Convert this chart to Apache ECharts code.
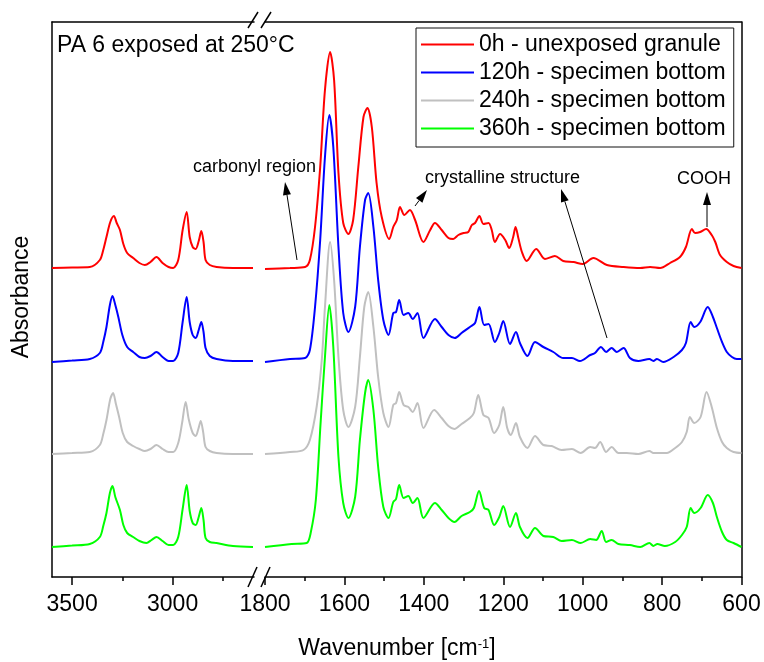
<!DOCTYPE html>
<html>
<head>
<meta charset="utf-8">
<script src="https://cdn.jsdelivr.net/npm/echarts@6/dist/echarts.min.js"></script>
<style>
  html, body { margin: 0; padding: 0; background: #fff; }
  #chart { width: 764px; height: 662px; }
</style>
</head>
<body>
<div id="chart"></div>
<script>
// FTIR spectra of PA 6 aged at 250 °C, plotted on a split wavenumber axis
// (3600–2600 cm-1 on the left part, 1800–600 cm-1 on the right part).

const seriesNames = [
  '0h - unexposed granule',
  '120h - specimen bottom',
  '240h - specimen bottom',
  '360h - specimen bottom'
];
const seriesColors = ['#ff0000', '#0000ff', '#c0c0c0', '#00ff00'];

// tick positions of the two axis parts
const ticksHighMajor = [3500, 3000];
const ticksHighMinor = [3250, 2750];
const ticksLowMajor = [1800, 1600, 1400, 1200, 1000, 800, 600];
const ticksLowMinor = [1700, 1500, 1300, 1100, 900, 700];

// [wavenumber, absorbance (offset per spectrum)]
const spec0hHigh = [[3600,3.09],[3500,3.095],[3412,3.10],[3362,3.17],[3345,3.27],[3329,3.40],[3310,3.55],[3292,3.61],[3278,3.54],[3262,3.47],[3245,3.33],[3226,3.24],[3196,3.19],[3165,3.14],[3138,3.12],[3110,3.15],[3080,3.20],[3050,3.14],[3020,3.10],[2997,3.09],[2972,3.17],[2950,3.47],[2930,3.65],[2915,3.40],[2900,3.30],[2885,3.28],[2870,3.36],[2857,3.46],[2846,3.35],[2836,3.17],[2815,3.12],[2781,3.10],[2700,3.09],[2600,3.09]];
const spec120hHigh = [[3600,2.15],[3500,2.165],[3412,2.18],[3362,2.24],[3345,2.35],[3329,2.50],[3312,2.72],[3299,2.81],[3285,2.72],[3270,2.60],[3250,2.42],[3226,2.30],[3196,2.25],[3165,2.20],[3138,2.19],[3110,2.21],[3080,2.25],[3050,2.20],[3020,2.16],[2997,2.16],[2972,2.24],[2950,2.55],[2930,2.80],[2915,2.55],[2900,2.42],[2885,2.39],[2870,2.47],[2857,2.55],[2846,2.45],[2836,2.29],[2815,2.21],[2781,2.18],[2700,2.16],[2600,2.16]];
const spec240hHigh = [[3600,1.23],[3500,1.24],[3412,1.25],[3362,1.32],[3345,1.43],[3329,1.57],[3310,1.78],[3296,1.84],[3282,1.73],[3266,1.60],[3248,1.44],[3226,1.35],[3196,1.31],[3165,1.28],[3138,1.26],[3110,1.28],[3080,1.32],[3050,1.28],[3020,1.25],[2997,1.25],[2972,1.34],[2952,1.55],[2935,1.75],[2920,1.58],[2900,1.44],[2885,1.41],[2872,1.48],[2860,1.56],[2848,1.45],[2836,1.30],[2815,1.26],[2781,1.24],[2700,1.23],[2600,1.23]];
const spec360hHigh = [[3600,0.30],[3500,0.315],[3412,0.33],[3362,0.40],[3345,0.51],[3329,0.64],[3312,0.84],[3299,0.91],[3285,0.80],[3262,0.67],[3245,0.52],[3226,0.44],[3196,0.40],[3165,0.36],[3130,0.34],[3105,0.37],[3080,0.40],[3050,0.36],[3020,0.32],[2997,0.32],[2972,0.40],[2950,0.68],[2930,0.92],[2915,0.66],[2900,0.54],[2885,0.52],[2870,0.60],[2857,0.69],[2846,0.57],[2836,0.39],[2815,0.35],[2781,0.34],[2700,0.31],[2600,0.30]];

const spec0hLow = [[1800,3.08],[1737,3.09],[1699,3.10],[1687,3.17],[1674,3.50],[1661,4.10],[1649,4.87],[1636,5.25],[1626,4.97],[1615,4.04],[1603,3.54],[1590,3.43],[1578,3.57],[1565,4.10],[1552,4.60],[1542,4.69],[1531,4.50],[1519,3.94],[1506,3.60],[1487,3.38],[1477,3.50],[1468,3.57],[1460,3.70],[1449,3.62],[1435,3.67],[1422,3.57],[1401,3.35],[1384,3.47],[1372,3.54],[1355,3.47],[1338,3.39],[1326,3.38],[1313,3.42],[1300,3.44],[1288,3.45],[1279,3.52],[1271,3.54],[1260,3.61],[1250,3.53],[1237,3.54],[1229,3.47],[1221,3.35],[1208,3.43],[1195,3.37],[1185,3.29],[1175,3.40],[1169,3.50],[1162,3.39],[1153,3.25],[1141,3.16],[1117,3.28],[1095,3.18],[1070,3.21],[1049,3.16],[1023,3.15],[1000,3.13],[973,3.19],[939,3.12],[897,3.10],[855,3.09],[830,3.10],[805,3.09],[780,3.14],[755,3.20],[740,3.30],[725,3.48],[717,3.44],[704,3.45],[689,3.48],[675,3.42],[666,3.35],[654,3.22],[637,3.15],[620,3.11],[600,3.09]];
const spec120hLow = [[1800,2.15],[1737,2.18],[1699,2.19],[1687,2.27],[1674,2.70],[1661,3.37],[1649,4.20],[1638,4.62],[1628,4.30],[1615,3.30],[1603,2.64],[1590,2.45],[1573,2.70],[1561,3.30],[1548,3.77],[1540,3.84],[1527,3.50],[1515,2.97],[1502,2.57],[1489,2.42],[1477,2.64],[1470,2.65],[1462,2.77],[1451,2.62],[1439,2.64],[1428,2.58],[1416,2.64],[1401,2.39],[1372,2.58],[1355,2.50],[1338,2.42],[1322,2.39],[1305,2.44],[1284,2.50],[1271,2.54],[1260,2.70],[1248,2.52],[1237,2.53],[1221,2.35],[1210,2.44],[1200,2.56],[1183,2.33],[1168,2.45],[1158,2.34],[1139,2.21],[1120,2.35],[1099,2.30],[1074,2.25],[1049,2.19],[1027,2.19],[1007,2.16],[981,2.22],[969,2.24],[954,2.30],[941,2.25],[927,2.29],[914,2.25],[897,2.29],[881,2.19],[860,2.16],[832,2.18],[822,2.16],[813,2.18],[797,2.15],[771,2.20],[750,2.27],[740,2.34],[728,2.55],[719,2.50],[704,2.55],[685,2.70],[672,2.60],[662,2.49],[649,2.35],[637,2.25],[624,2.20],[612,2.18],[600,2.18]];
const spec240hLow = [[1800,1.23],[1737,1.25],[1703,1.27],[1687,1.37],[1670,1.70],[1657,2.17],[1649,2.70],[1636,3.35],[1626,2.97],[1615,2.20],[1603,1.67],[1590,1.50],[1573,1.70],[1561,2.20],[1550,2.70],[1540,2.85],[1527,2.50],[1515,2.00],[1502,1.64],[1489,1.50],[1477,1.72],[1470,1.74],[1462,1.85],[1451,1.72],[1439,1.70],[1428,1.65],[1416,1.74],[1401,1.49],[1374,1.67],[1355,1.59],[1338,1.51],[1323,1.48],[1305,1.53],[1284,1.59],[1274,1.64],[1263,1.82],[1250,1.62],[1237,1.59],[1223,1.44],[1210,1.52],[1200,1.70],[1190,1.49],[1181,1.42],[1168,1.54],[1158,1.40],[1139,1.29],[1120,1.41],[1099,1.32],[1078,1.31],[1053,1.27],[1027,1.28],[1005,1.24],[981,1.30],[969,1.29],[956,1.35],[941,1.25],[927,1.30],[910,1.24],[889,1.24],[860,1.23],[832,1.26],[822,1.24],[812,1.24],[788,1.24],[767,1.29],[750,1.35],[738,1.45],[730,1.60],[719,1.54],[703,1.60],[688,1.85],[675,1.70],[662,1.49],[649,1.35],[637,1.29],[620,1.25],[600,1.24]];
const spec360hLow = [[1800,0.30],[1733,0.33],[1695,0.34],[1685,0.44],[1672,0.77],[1660,1.54],[1649,2.20],[1638,2.72],[1628,2.30],[1615,1.20],[1603,0.74],[1590,0.59],[1573,0.80],[1561,1.37],[1548,1.84],[1540,1.97],[1527,1.67],[1515,1.10],[1502,0.70],[1489,0.59],[1477,0.75],[1470,0.78],[1462,0.92],[1451,0.79],[1439,0.81],[1428,0.74],[1416,0.79],[1401,0.59],[1372,0.74],[1355,0.67],[1338,0.59],[1323,0.55],[1305,0.61],[1284,0.65],[1274,0.69],[1261,0.86],[1248,0.69],[1237,0.67],[1223,0.52],[1210,0.60],[1200,0.71],[1183,0.50],[1168,0.64],[1158,0.50],[1139,0.39],[1120,0.49],[1099,0.41],[1074,0.40],[1053,0.36],[1027,0.37],[1005,0.34],[981,0.38],[966,0.37],[952,0.46],[941,0.35],[927,0.37],[910,0.33],[881,0.32],[855,0.30],[832,0.34],[822,0.31],[812,0.33],[793,0.31],[767,0.35],[750,0.42],[738,0.50],[728,0.69],[719,0.64],[703,0.69],[685,0.82],[672,0.74],[662,0.60],[649,0.45],[637,0.37],[620,0.34],[600,0.30]];

const highParts = [spec0hHigh, spec120hHigh, spec240hHigh, spec360hHigh];
const lowParts = [spec0hLow, spec120hLow, spec240hLow, spec360hLow];

const FONT = "'Liberation Sans', Arial, Helvetica, sans-serif";
const INK = '#000';

const chart = echarts.init(document.getElementById('chart'), null, { renderer: 'canvas' });

function bottomAxis(gridIndex, min, max, ticks, tickLen, withLabels, withLine) {
  return {
    type: 'value', gridIndex, position: 'bottom', min, max, inverse: true,
    axisLine: { show: withLine, onZero: false, lineStyle: { color: INK, width: 1.5 } },
    axisTick: { show: true, inside: false, length: tickLen, customValues: ticks,
                lineStyle: { color: INK, width: 1.5 } },
    axisLabel: { show: withLabels, customValues: ticks, margin: 16,
                 formatter: (v) => String(v),
                 fontSize: 23, fontFamily: FONT, color: INK },
    splitLine: { show: false }, minorTick: { show: false }
  };
}
function topAxis(gridIndex, min, max) {
  return {
    type: 'value', gridIndex, position: 'top', min, max, inverse: true,
    axisLine: { show: true, onZero: false, lineStyle: { color: INK, width: 1.5 } },
    axisTick: { show: false }, axisLabel: { show: false }, splitLine: { show: false }
  };
}
function sideAxis(gridIndex, position) {
  return {
    type: 'value', gridIndex, position, min: 0, max: 5.55,
    axisLine: { show: true, onZero: false, lineStyle: { color: INK, width: 1.5 } },
    axisTick: { show: false }, axisLabel: { show: false }, splitLine: { show: false }
  };
}

const series = [];
seriesNames.forEach((name, i) => {
  [[highParts[i], 0], [lowParts[i], 3]].forEach(([data, xi]) => {
    series.push({
      name, type: 'line', data,
      xAxisIndex: xi, yAxisIndex: xi === 0 ? 0 : 1,
      symbol: 'none', smooth: 0.3,
      lineStyle: { color: seriesColors[i], width: 2 },
      itemStyle: { color: seriesColors[i] },
      emphasis: { disabled: true }, z: 2 + i
    });
  });
});

// arrow (line + filled head) from (x1,y1) pointing to (x2,y2)
function arrow(x1, y1, x2, y2) {
  const dx = x2 - x1, dy = y2 - y1, len = Math.hypot(dx, dy);
  const ux = dx / len, uy = dy / len, hl = 13, hw = 4;
  const bx = x2 - ux * hl, by = y2 - uy * hl;
  return [
    { type: 'line', shape: { x1, y1, x2: bx, y2: by }, style: { stroke: INK, lineWidth: 1 }, z: 10 },
    { type: 'polygon', shape: { points: [[x2, y2], [bx - uy * hw, by + ux * hw], [bx + uy * hw, by - ux * hw]] },
      style: { fill: INK }, z: 10 }
  ];
}
function slash(x1, y1, x2, y2) {
  return { type: 'line', shape: { x1, y1, x2, y2 }, style: { stroke: INK, lineWidth: 1.5 }, z: 10 };
}
function label(text, x, y, size, align) {
  return { type: 'text', x, y, z: 10,
    style: { text, fill: INK, fontSize: size, fontFamily: FONT, align: align || 'left', verticalAlign: 'middle' } };
}

const graphics = [
  label('PA 6 exposed at 250°C', 57, 46, 23),
  label('carbonyl region', 193, 167, 18),
  label('crystalline structure', 425, 178, 18),
  label('COOH', 677, 179, 18),
  ...arrow(297, 260, 285, 182),
  ...arrow(415, 206, 427, 190),
  ...arrow(607, 338, 561, 189),
  ...arrow(707, 227, 707, 192),
  slash(248, 28, 258, 12), slash(261, 28, 271, 12),
  slash(248, 587, 257, 567), slash(261, 587, 270, 567),
  { type: 'text', x: 397, y: 649, z: 10,
    style: { text: 'Wavenumber [cm{sup|-1}]', fill: INK, fontSize: 23, fontFamily: FONT,
             align: 'center', verticalAlign: 'middle',
             rich: { sup: { fontSize: 13, fontFamily: FONT, fill: INK, verticalAlign: 'top' } } } },
  { type: 'text', x: 22, y: 297, rotation: Math.PI / 2, z: 10,
    style: { text: 'Absorbance', fill: INK, fontSize: 23, fontFamily: FONT, align: 'center', verticalAlign: 'middle' } }
];

chart.setOption({
  animation: false,
  backgroundColor: '#fff',
  grid: [
    { left: 52, top: 22, width: 202, height: 555, containLabel: false, outerBoundsMode: 'none' },
    { left: 265, top: 22, width: 476.5, height: 555, containLabel: false, outerBoundsMode: 'none' }
  ],
  xAxis: [
    bottomAxis(0, 2595, 3600, ticksHighMajor, 8, true, true),
    bottomAxis(0, 2595, 3600, ticksHighMinor, 4, false, false),
    topAxis(0, 2595, 3600),
    bottomAxis(1, 600, 1800, ticksLowMajor, 8, true, true),
    bottomAxis(1, 600, 1800, ticksLowMinor, 4, false, false),
    topAxis(1, 600, 1800)
  ],
  yAxis: [sideAxis(0, 'left'), sideAxis(1, 'right')],
  legend: {
    orient: 'vertical', left: 416, top: 28,
    padding: [5, 8, 7, 4], itemGap: 5, itemWidth: 53, itemHeight: 14,
    borderColor: '#111', borderWidth: 1, backgroundColor: '#fff',
    itemStyle: { opacity: 0 },
    lineStyle: { width: 2 },
    textStyle: { fontSize: 23, fontFamily: FONT, color: INK },
    data: seriesNames, selectedMode: false, z: 20
  },
  series,
  graphic: graphics
});
</script>
</body>
</html>
